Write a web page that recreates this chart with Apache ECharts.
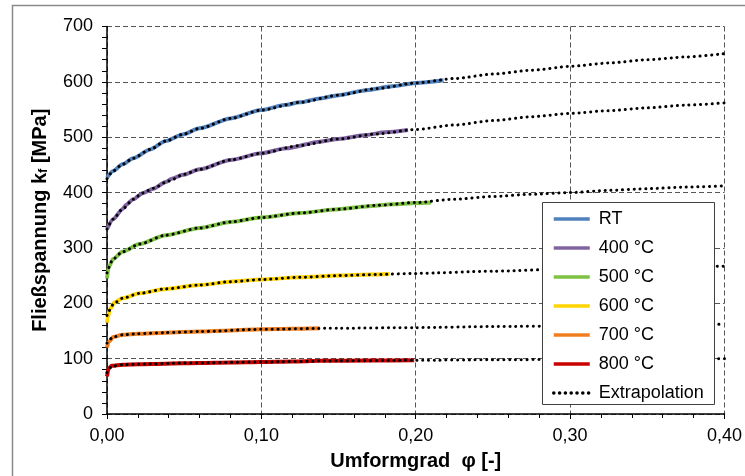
<!DOCTYPE html>
<html>
<head>
<meta charset="utf-8">
<script src="https://cdn.jsdelivr.net/npm/echarts@6/dist/echarts.min.js"></script>
<style>
html,body{margin:0;padding:0;background:#fff;}
#chart{width:745px;height:476px;}
</style>
</head>
<body>
<div id="chart"></div>
<script>
// ---- data ----
const seriesNames = ['RT', '400 °C', '500 °C', '600 °C', '700 °C', '800 °C'];
const extrapName = 'Extrapolation';
const xTickLabels = ['0,00', '0,10', '0,20', '0,30', '0,40'];
const yTickLabels = ['0', '100', '200', '300', '400', '500', '600', '700'];

// measured curves (phi, kf)
const phiRT  = [0, 0.004, 0.01, 0.017, 0.028, 0.038, 0.049, 0.06, 0.08, 0.1, 0.115, 0.125, 0.138, 0.15, 0.168, 0.185, 0.2, 0.218];
const kfRT   = [427, 439, 451, 462, 478, 493, 505, 516, 534, 549, 558, 563, 570, 576, 585, 592, 598, 603];
const phi400 = [0, 0.004, 0.01, 0.0125, 0.017, 0.023, 0.03, 0.038, 0.042, 0.049, 0.06, 0.08, 0.1, 0.116, 0.138, 0.15, 0.168, 0.18, 0.195];
const kf400  = [334, 352, 370, 378, 388, 399, 407, 419, 425, 432, 442, 459, 471, 480, 492, 497, 504, 509, 513];
const phi500 = [0, 0.001, 0.004, 0.01, 0.021, 0.038, 0.06, 0.08, 0.1, 0.125, 0.15, 0.168, 0.185, 0.2, 0.21];
const kf500  = [245, 265, 280, 293, 307, 323, 336, 347, 355, 363, 370, 375, 379, 381, 382];
const phi600 = [0, 0.0005, 0.002, 0.005, 0.01, 0.021, 0.038, 0.06, 0.08, 0.1, 0.125, 0.15, 0.17, 0.183];
const kf600  = [165, 175, 190, 202, 209, 218, 226, 233, 239, 243, 247, 250, 252, 253];
const phi700 = [0, 0.001, 0.004, 0.01, 0.02, 0.038, 0.06, 0.08, 0.1, 0.12, 0.1377];
const kf700  = [120, 130, 139, 143, 145, 147, 149, 151, 153, 154, 155];
const phi800 = [0, 0.001, 0.003, 0.01, 0.02, 0.038, 0.06, 0.08, 0.1, 0.12, 0.138, 0.17, 0.199];
const kf800  = [68, 82, 87, 89, 90, 91, 92, 93, 94, 95, 96, 96.5, 97];

// extrapolation curves (phi, kf)
const phiExRT  = [0, 0.004, 0.01, 0.017, 0.028, 0.038, 0.049, 0.06, 0.08, 0.1, 0.125, 0.15, 0.175, 0.2, 0.225, 0.25, 0.275, 0.3, 0.325, 0.35, 0.375, 0.4];
const kfExRT   = [425, 439, 451, 462, 478, 493, 505, 516, 534, 549, 563, 576, 588, 598, 606, 614, 621, 628, 634, 640, 645, 651];
const phiEx400 = [0, 0.004, 0.01, 0.017, 0.023, 0.03, 0.04, 0.05, 0.06, 0.08, 0.1, 0.125, 0.15, 0.175, 0.2, 0.225, 0.25, 0.275, 0.3, 0.325, 0.35, 0.375, 0.4];
const kfEx400  = [334, 352, 370, 388, 399, 408, 421, 433, 442, 459, 471, 485, 497, 506, 514, 522, 530, 537, 543, 548, 553, 558, 562];
const phiEx500 = [0, 0.004, 0.01, 0.021, 0.038, 0.06, 0.08, 0.1, 0.125, 0.15, 0.175, 0.2, 0.225, 0.25, 0.275, 0.3, 0.325, 0.35, 0.375, 0.4];
const kfEx500  = [255, 280, 293, 307, 323, 336, 347, 355, 363, 370, 377, 382, 388, 393, 397, 400, 404, 407, 410, 412];
const phiEx600 = [0, 0.005, 0.01, 0.021, 0.038, 0.06, 0.08, 0.1, 0.125, 0.15, 0.175, 0.2, 0.25, 0.3, 0.35, 0.4];
const kfEx600  = [178, 201, 209, 218, 226, 233, 239, 243, 247, 250, 252, 254, 258, 262, 265, 267];
const phiEx700 = [0, 0.004, 0.01, 0.02, 0.038, 0.06, 0.1, 0.15, 0.2, 0.25, 0.3, 0.35, 0.4];
const kfEx700  = [128, 139, 143, 145, 147, 149, 153, 155, 156, 158, 159, 161, 162];
const phiEx800 = [0, 0.003, 0.01, 0.02, 0.05, 0.1, 0.15, 0.2, 0.25, 0.3, 0.35, 0.4];
const kfEx800  = [75, 86, 89, 90, 92, 94, 96, 97, 98, 98.5, 99, 100];

const colors = ['#4F81BD', '#8064A2', '#7DC242', '#FFD400', '#F07E1E', '#C80000'];

// ---- build ----
const measured = [[phiRT, kfRT], [phi400, kf400], [phi500, kf500], [phi600, kf600], [phi700, kf700], [phi800, kf800]];
const extrap = [[phiExRT, kfExRT], [phiEx400, kfEx400], [phiEx500, kfEx500], [phiEx600, kfEx600], [phiEx700, kfEx700], [phiEx800, kfEx800]];
const zip = (a, b) => a.map((v, i) => [v, b[i]]);
const FONT = '"Liberation Sans", Arial, sans-serif';

const series = [];
measured.forEach((m, i) => {
  series.push({
    name: seriesNames[i], type: 'line', data: zip(m[0], m[1]),
    symbol: 'none', smooth: 0.25, smoothMonotone: 'x', z: 2,
    lineStyle: { color: colors[i], width: 4 },
    itemStyle: { color: colors[i] }
  });
});
extrap.forEach((m) => {
  series.push({
    name: extrapName, type: 'line', data: zip(m[0], m[1]),
    symbol: 'none', smooth: 0.25, smoothMonotone: 'x', z: 3,
    lineStyle: { color: '#000', width: 3, type: [0.1, 5.7], cap: 'round' },
    itemStyle: { color: '#000' }
  });
});

const chart = echarts.init(document.getElementById('chart'), null, { renderer: 'canvas' });
chart.setOption({
  animation: false,
  backgroundColor: '#fff',
  textStyle: { fontFamily: FONT },
  grid: { left: 107, right: 20, top: 26.5, bottom: 60.5, containLabel: false },
  xAxis: {
    type: 'value', min: 0, max: 0.4, interval: 0.1,
    name: 'Umformgrad  φ [-]', nameLocation: 'middle', nameGap: 37,
    nameTextStyle: { fontFamily: FONT, fontSize: 20, fontWeight: 'bold', color: '#000' },
    axisLine: { show: true, onZero: false, lineStyle: { color: '#000', width: 1.5 } },
    axisTick: { show: true, length: 5, lineStyle: { color: '#000', width: 1 } },
    minorTick: { show: true, splitNumber: 5, length: 4, lineStyle: { color: '#000', width: 1 } },
    axisLabel: { fontFamily: FONT, fontSize: 18, color: '#000', margin: 13,
      formatter: (v) => xTickLabels[Math.round(v / 0.1)] },
    splitLine: { show: true, lineStyle: { color: '#555', width: 1, type: [5, 3] } }
  },
  yAxis: {
    type: 'value', min: 0, max: 700, interval: 100,
    name: 'Fließspannung k{sub|f} [MPa]', nameLocation: 'middle', nameGap: 57,
    nameTextStyle: { fontFamily: FONT, fontSize: 20, fontWeight: 'bold', color: '#000',
      rich: { sub: { fontFamily: FONT, fontSize: 13, fontWeight: 'bold', color: '#000', verticalAlign: 'bottom', padding: [7, 0, 0, 0] } } },
    axisLine: { show: true, onZero: false, lineStyle: { color: '#000', width: 1.5 } },
    axisTick: { show: true, length: 5, lineStyle: { color: '#000', width: 1 } },
    minorTick: { show: true, splitNumber: 5, length: 5, lineStyle: { color: '#000', width: 1 } },
    axisLabel: { fontFamily: FONT, fontSize: 18, color: '#000', margin: 14,
      formatter: (v) => yTickLabels[Math.round(v / 100)] },
    splitLine: { show: true, lineStyle: { color: '#555', width: 1, type: [5, 3] } }
  },
  legend: {
    orient: 'vertical', left: 552, top: 210, z: 60,
    itemWidth: 36, itemHeight: 14, itemGap: 11, padding: 0,
    itemStyle: { opacity: 0 },
    lineStyle: { width: 3.5 },
    data: seriesNames.concat([extrapName]),
    textStyle: { fontFamily: FONT, fontSize: 18, color: '#000', lineHeight: 18, padding: [0, 0, 0, 4] }
  },
  graphic: [
    { type: 'rect', z: 0, silent: true,
      shape: { x: 12.5, y: 5.5, width: 900, height: 600 },
      style: { fill: 'none', stroke: '#8a8a8a', lineWidth: 1.5 } },
    { type: 'rect', z: 50, silent: true,
      shape: { x: 542.5, y: 202.5, width: 172, height: 202 },
      style: { fill: '#fff', stroke: '#404040', lineWidth: 1 } }
  ],
  series: series
});
</script>
</body>
</html>
